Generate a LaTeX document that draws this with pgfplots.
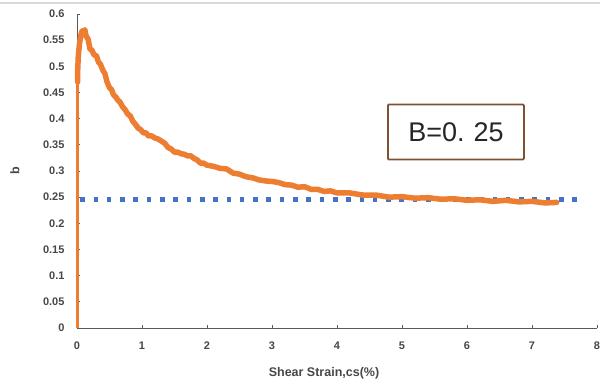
\documentclass[border=0pt]{standalone}
\usepackage{pgfplots}
\pgfplotsset{compat=1.18}
\usepackage{fontspec}
\setmainfont{Liberation Sans}
\definecolor{myorange}{HTML}{ED7D31}
\definecolor{myblue}{HTML}{4472C4}
\definecolor{mybrown}{HTML}{7F5032}
\definecolor{axgray}{HTML}{595959}
\begin{document}
\begin{tikzpicture}
\begin{axis}[
  scale only axis, width=520pt, height=314pt,
  xmin=0, xmax=8, ymin=0, ymax=0.6,
  clip=false,
  axis lines=left,
  axis line style={-, draw=axgray, line width=1pt},
  xtick={0,1,2,3,4,5,6,7,8},
  ytick={0,0.05,0.1,0.15,0.2,0.25,0.3,0.35,0.4,0.45,0.5,0.55,0.6},
  tick align=inside, major tick length=3pt,
  tick style={draw=axgray, line width=0.8pt},
  /pgf/number format/assume math mode=true,
  /pgf/number format/fixed,
  /pgf/number format/precision=2,
  ticklabel style={font=\fontsize{11}{13}\selectfont\bfseries, text=black!72},
  yticklabel style={xshift=-9pt},
  xticklabel style={yshift=-10pt},
  xlabel={Shear Strain,cs(\%)},
  ylabel={b},
  label style={font=\fontsize{12.5}{14}\selectfont\bfseries, text=black!72},
  xlabel style={at={(axis description cs:0.475,0)}, anchor=center, yshift=-45pt},
  ylabel style={at={([xshift=-62pt]axis description cs:0,0.5)}, anchor=center},
]
\coordinate (ll) at (rel axis cs:0,0);
\coordinate (ur) at (rel axis cs:1,1);
\addplot[myblue, line width=4.6pt, dash pattern=on 4.6pt off 8.7pt] coordinates {(0.05,0.245) (7.78,0.245)};
\addplot[myorange, line width=3.6pt, line join=round] coordinates {(0.008,0) (0.008,0.48)};
\addplot[myorange, line width=5.5pt, line join=round, line cap=round] coordinates {
(0.01,0.47) (0.01,0.49) (0.02,0.52) (0.04,0.545) (0.06,0.56) (0.08,0.568) (0.10,0.564) (0.12,0.57)
(0.14,0.558) (0.17,0.552) (0.20,0.533) (0.23,0.531) (0.26,0.522) (0.30,0.520) (0.33,0.508)
(0.36,0.504) (0.40,0.492) (0.43,0.486) (0.46,0.471) (0.50,0.459) (0.53,0.456) (0.56,0.446)
(0.60,0.441) (0.63,0.435) (0.66,0.432) (0.70,0.423) (0.74,0.417) (0.78,0.409) (0.82,0.405)
(0.86,0.395) (0.90,0.389) (0.94,0.382) (0.98,0.379) (1.02,0.373) (1.06,0.373) (1.10,0.367)
(1.15,0.367) (1.20,0.363) (1.25,0.361) (1.30,0.357) (1.35,0.353) (1.40,0.345) (1.45,0.342)
(1.50,0.336) (1.55,0.336) (1.60,0.333) (1.65,0.332) (1.70,0.329) (1.75,0.329) (1.80,0.324)
(1.85,0.321) (1.90,0.315) (1.95,0.315) (2.00,0.311) (2.1,0.309) (2.2,0.305) (2.3,0.304)
(2.4,0.296) (2.5,0.294) (2.6,0.289) (2.7,0.287) (2.8,0.283) (2.9,0.281) (3.0,0.280)
(3.1,0.278) (3.2,0.274) (3.3,0.273) (3.4,0.269) (3.5,0.270) (3.6,0.265) (3.7,0.265)
(3.8,0.261) (3.9,0.262) (4.0,0.258) (4.2,0.258) (4.4,0.254) (4.6,0.254) (4.8,0.250)
(5.0,0.251) (5.2,0.248) (5.4,0.249) (5.6,0.246) (5.8,0.247) (6.0,0.244) (6.2,0.245)
(6.4,0.242) (6.6,0.244) (6.8,0.241) (7.0,0.242) (7.2,0.239) (7.38,0.240)};
\node[draw=mybrown, line width=1.8pt, rounded corners=1pt, fill=white, minimum width=136pt, minimum height=55pt,
      font=\fontsize{27}{30}\selectfont, text=black!85] at (axis cs:5.83,0.3745) {B=0.\,\,25};
\end{axis}
\draw[black!15, line width=1.5pt] ([xshift=-77pt,yshift=11pt]ll |- ur) -- ([xshift=3pt,yshift=11pt]ur);
\pgfresetboundingbox
\path[use as bounding box] ([shift={(-77pt,-59pt)}]ll) rectangle ([shift={(3pt,14pt)}]ur);
\end{tikzpicture}
\end{document}
